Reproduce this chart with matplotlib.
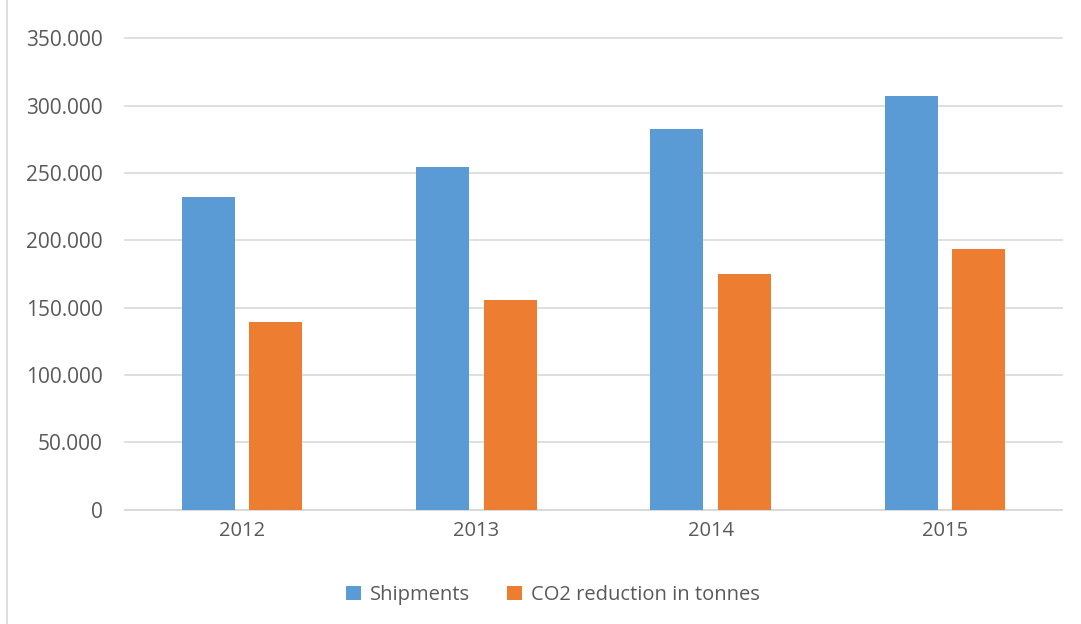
"""
Shipments vs. CO2 reduction per year — clustered column chart (Excel style).
Saves out.png at 1081x624.
"""

import matplotlib.pyplot as plt
import numpy as np
from matplotlib.patches import Rectangle
from matplotlib.ticker import FuncFormatter, MultipleLocator

# ---------------------------------------------------------------------------
# Data
# ---------------------------------------------------------------------------

years = ["2012", "2013", "2014", "2015"]
shipments = [232000, 254500, 283000, 307000]
co2_reduction = [139300, 155900, 175000, 193800]

series_names = ["Shipments", "CO2 reduction in tonnes"]

# ---------------------------------------------------------------------------
# Style
# ---------------------------------------------------------------------------

BLUE = "#5B9BD5"
ORANGE = "#ED7D31"
TEXT = "#595959"
GRID = "#D9D9D9"

plt.rcParams.update(
    {
        "font.family": ["Open Sans", "DejaVu Sans"],
        "font.size": 15,
        "text.color": TEXT,
        "xtick.color": TEXT,
        "ytick.color": TEXT,
    }
)


def dot_thousands(val, _pos):
    """350000 -> '350.000', 0 -> '0'."""
    if val == 0:
        return "0"
    return f"{val / 1000:.3f}"


def main() -> None:
    fig = plt.figure(figsize=(10.81, 6.24), dpi=100)
    ax = fig.add_axes([125 / 1081, 1 - 509.5 / 624, (1062 - 125) / 1081, (509.5 - 38.5) / 624])

    # chart border
    fig.patches.append(
        Rectangle((7 / 1081, -0.01), 1.02, 1.02, transform=fig.transFigure,
                  fill=False, edgecolor=GRID, linewidth=1.2)
    )

    x = np.arange(len(years))
    width = 0.227
    offset = 0.144
    ax.bar(x - offset, shipments, width, color=BLUE, label=series_names[0], zorder=3)
    ax.bar(x + offset, co2_reduction, width, color=ORANGE, label=series_names[1], zorder=3)

    ax.set_xlim(-0.5, len(years) - 0.5)
    ax.set_ylim(0, 350000)
    ax.yaxis.set_major_locator(MultipleLocator(50000))
    ax.yaxis.set_major_formatter(FuncFormatter(dot_thousands))
    ax.set_xticks(x)
    ax.set_xticklabels(years, fontsize=14.5)

    ax.yaxis.grid(True, color=GRID, linewidth=1.2, zorder=0)
    ax.set_axisbelow(True)
    for gl in ax.get_ygridlines():
        gl.set_clip_on(False)
    ax.tick_params(axis="both", length=0)
    ax.tick_params(axis="y", pad=16)
    ax.tick_params(axis="x", pad=8)
    for side in ("top", "right", "left"):
        ax.spines[side].set_visible(False)
    ax.spines["bottom"].set_color(GRID)
    ax.spines["bottom"].set_linewidth(1.2)

    fig.legend(
        loc="center", bbox_to_anchor=(553 / 1081, 1 - 595 / 624), ncol=2,
        frameon=False, handlelength=0.75, handleheight=0.75, columnspacing=1.8,
        handletextpad=0.45, fontsize=14.5,
    )

    fig.savefig("out.png", dpi=100)
    plt.close(fig)


if __name__ == "__main__":
    main()
